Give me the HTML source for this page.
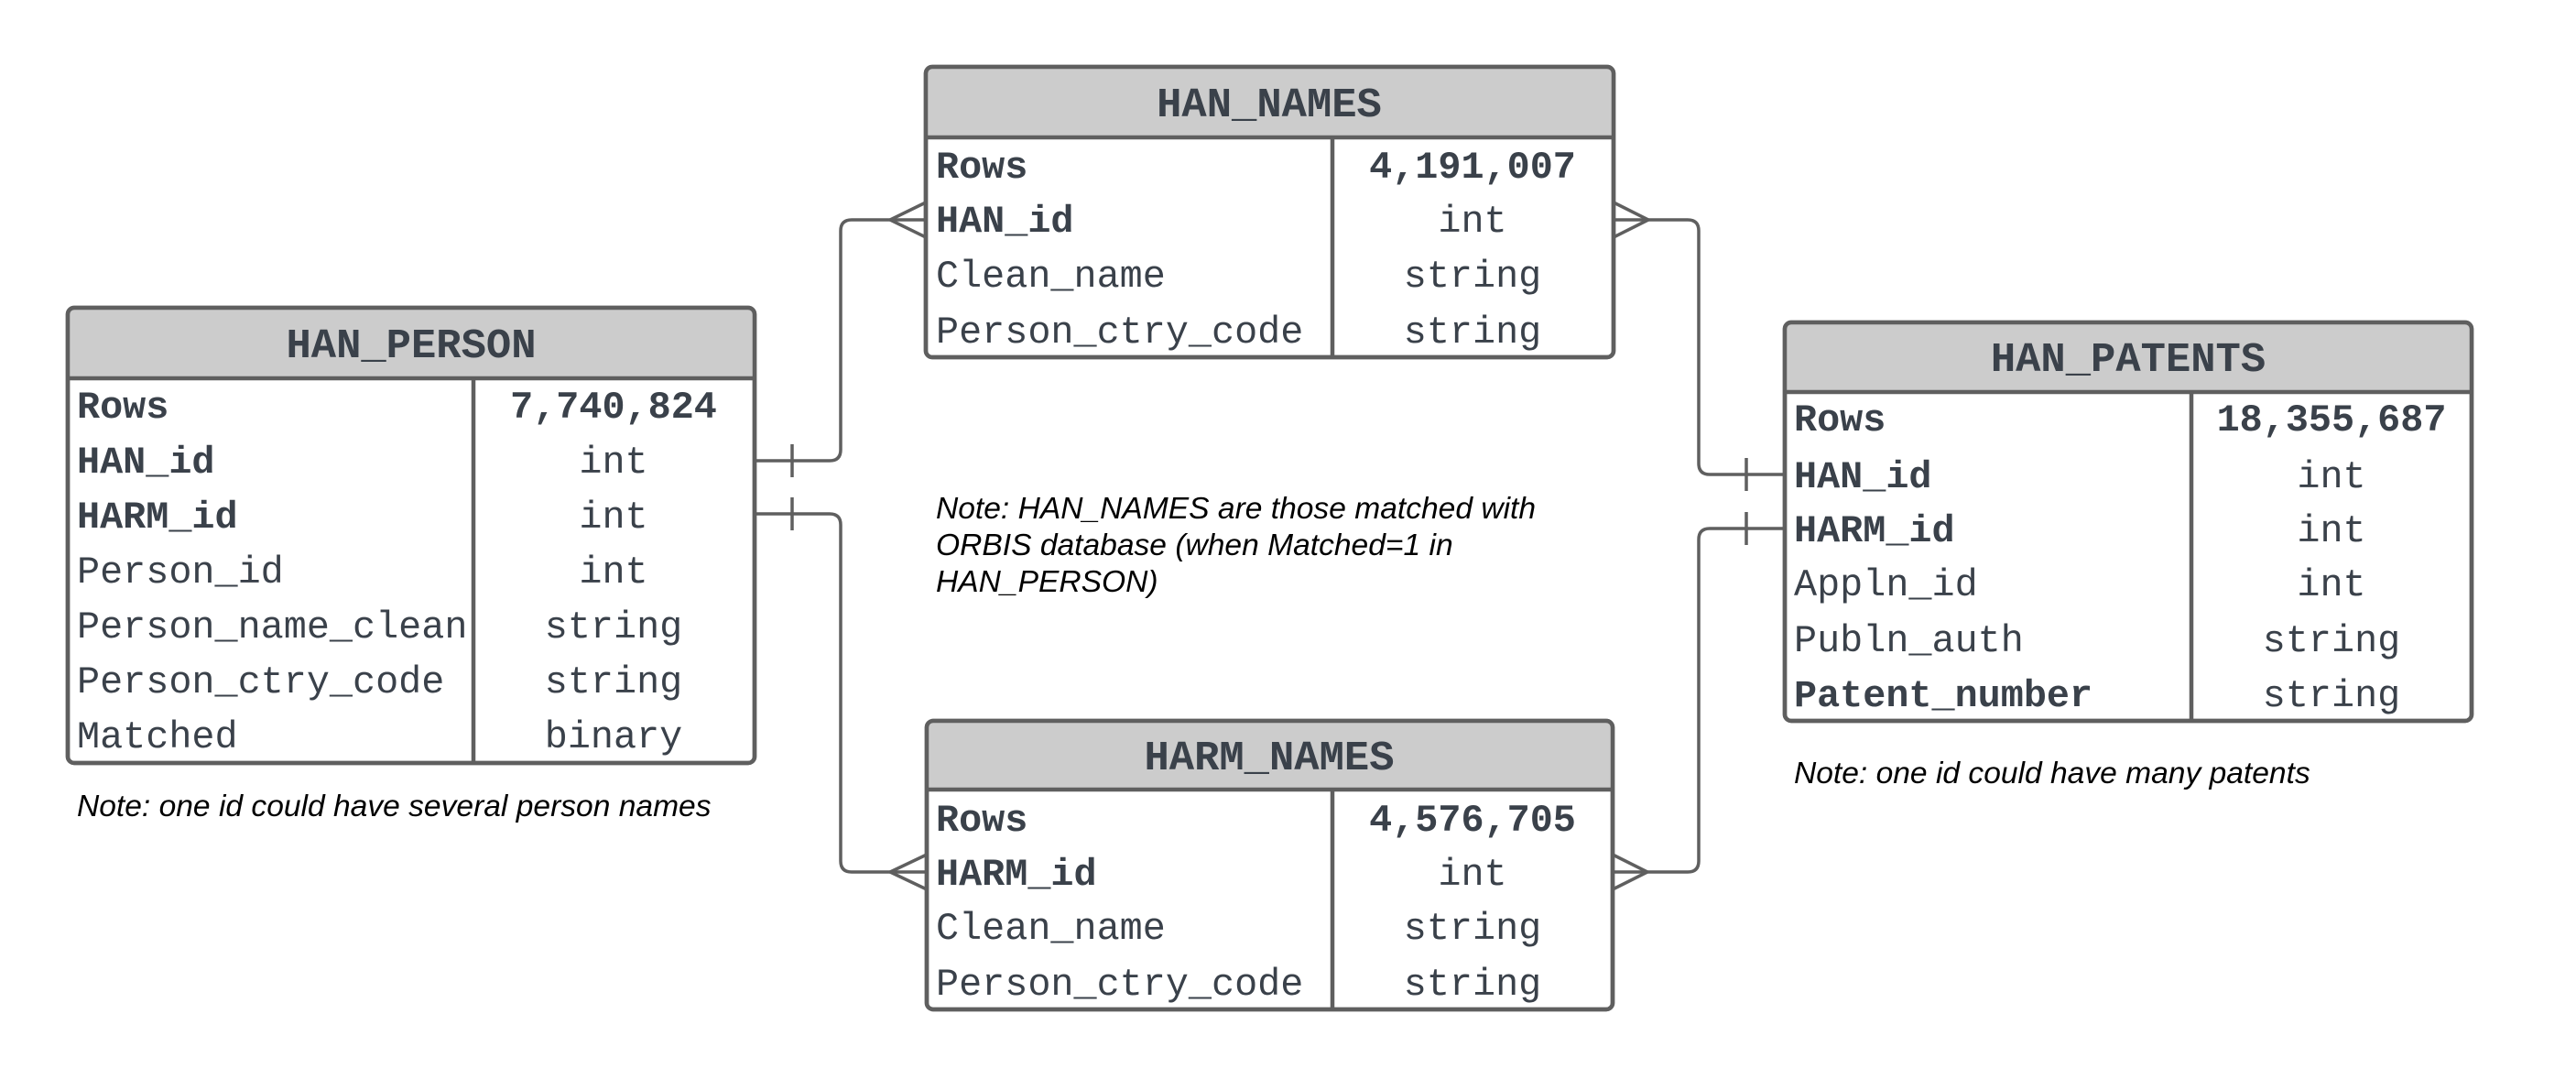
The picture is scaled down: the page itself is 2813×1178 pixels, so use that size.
<!DOCTYPE html>
<html><head><meta charset="utf-8"><style>
html,body{margin:0;padding:0;background:#fff;}
svg{display:block;}
.h{font-family:"Liberation Mono",monospace;font-weight:bold;font-size:45.5px;fill:#3a414a;}
.r{font-family:"Liberation Mono",monospace;font-size:41.8px;fill:#3a414a;}
.b{font-weight:bold;}
.n{font-family:"Liberation Sans",sans-serif;font-style:italic;font-size:33.6px;fill:#000;}
.ln{fill:none;stroke:#5f5f5f;stroke-width:3.5;}
.bx{stroke:#5f5f5f;stroke-width:4.5;}
</style></head><body>
<svg width="2813" height="1178" viewBox="0 0 2813 1178" xmlns="http://www.w3.org/2000/svg">
<path class="ln" d="M824 503 H906 Q918 503 918 491 V252 Q918 240 930 240 H1011"/>
<path class="ln" d="M1011 221 L972 240 L1011 259"/>
<path class="ln" d="M865 485 V521"/>
<path class="ln" d="M824 561 H906 Q918 561 918 573 V940 Q918 952 930 952 H1012"/>
<path class="ln" d="M1012 933 L972 952 L1012 971"/>
<path class="ln" d="M865 543 V579"/>
<path class="ln" d="M1762 240 H1843 Q1855 240 1855 252 V506 Q1855 518 1867 518 H1949"/>
<path class="ln" d="M1762 221 L1800 240 L1762 259"/>
<path class="ln" d="M1907 500 V536"/>
<path class="ln" d="M1761 952 H1843 Q1855 952 1855 940 V589 Q1855 577 1867 577 H1949"/>
<path class="ln" d="M1761 933 L1799 952 L1761 971"/>
<path class="ln" d="M1907 559 V595"/>

<rect x="74" y="336" width="750" height="497" rx="7" fill="#fff" class="bx"/>
<path d="M81 338 H817 Q822 338 822 343 V413 H76 V343 Q76 338 81 338Z" fill="#cccccc"/>
<rect x="74" y="336" width="750" height="497" rx="7" fill="none" class="bx"/>
<line x1="74" y1="413" x2="824" y2="413" class="bx"/>
<line x1="517" y1="413" x2="517" y2="833" class="bx"/>
<text x="449" y="390" text-anchor="middle" class="h">HAN_PERSON</text>
<g class="r">
<text x="84" y="456" class="b">Rows</text><text x="670" y="456" text-anchor="middle" class="b">7,740,824</text>
<text x="84" y="516" class="b">HAN_id</text><text x="670" y="516" text-anchor="middle">int</text>
<text x="84" y="576" class="b">HARM_id</text><text x="670" y="576" text-anchor="middle">int</text>
<text x="84" y="636">Person_id</text><text x="670" y="636" text-anchor="middle">int</text>
<text x="84" y="696">Person_name_clean</text><text x="670" y="696" text-anchor="middle">string</text>
<text x="84" y="756">Person_ctry_code</text><text x="670" y="756" text-anchor="middle">string</text>
<text x="84" y="816">Matched</text><text x="670" y="816" text-anchor="middle">binary</text>
</g>
<text x="84" y="891" class="n">Note: one id could have several person names</text>

<rect x="1011" y="73" width="751" height="317" rx="7" fill="#fff" class="bx"/>
<path d="M1018 75 H1755 Q1760 75 1760 80 V150 H1013 V80 Q1013 75 1018 75Z" fill="#cccccc"/>
<rect x="1011" y="73" width="751" height="317" rx="7" fill="none" class="bx"/>
<line x1="1011" y1="150" x2="1762" y2="150" class="bx"/>
<line x1="1455" y1="150" x2="1455" y2="390" class="bx"/>
<text x="1386" y="127" text-anchor="middle" class="h">HAN_NAMES</text>
<g class="r">
<text x="1022" y="194" class="b">Rows</text><text x="1608" y="194" text-anchor="middle" class="b">4,191,007</text>
<text x="1022" y="253" class="b">HAN_id</text><text x="1608" y="253" text-anchor="middle">int</text>
<text x="1022" y="313">Clean_name</text><text x="1608" y="313" text-anchor="middle">string</text>
<text x="1022" y="374">Person_ctry_code</text><text x="1608" y="374" text-anchor="middle">string</text>
</g>
<text class="n"><tspan x="1022" y="566">Note: HAN_NAMES are those matched with</tspan><tspan x="1022" y="606">ORBIS database (when Matched=1 in</tspan><tspan x="1022" y="646">HAN_PERSON)</tspan></text>

<rect x="1012" y="787" width="749" height="315" rx="7" fill="#fff" class="bx"/>
<path d="M1019 789 H1754 Q1759 789 1759 794 V862 H1014 V794 Q1014 789 1019 789Z" fill="#cccccc"/>
<rect x="1012" y="787" width="749" height="315" rx="7" fill="none" class="bx"/>
<line x1="1012" y1="862" x2="1761" y2="862" class="bx"/>
<line x1="1455" y1="862" x2="1455" y2="1102" class="bx"/>
<text x="1386" y="840" text-anchor="middle" class="h">HARM_NAMES</text>
<g class="r">
<text x="1022" y="907" class="b">Rows</text><text x="1608" y="907" text-anchor="middle" class="b">4,576,705</text>
<text x="1022" y="966" class="b">HARM_id</text><text x="1608" y="966" text-anchor="middle">int</text>
<text x="1022" y="1025">Clean_name</text><text x="1608" y="1025" text-anchor="middle">string</text>
<text x="1022" y="1086">Person_ctry_code</text><text x="1608" y="1086" text-anchor="middle">string</text>
</g>

<rect x="1949" y="352" width="750" height="435" rx="7" fill="#fff" class="bx"/>
<path d="M1956 354 H2692 Q2697 354 2697 359 V428 H1951 V359 Q1951 354 1956 354Z" fill="#cccccc"/>
<rect x="1949" y="352" width="750" height="435" rx="7" fill="none" class="bx"/>
<line x1="1949" y1="428" x2="2699" y2="428" class="bx"/>
<line x1="2393" y1="428" x2="2393" y2="787" class="bx"/>
<text x="2324" y="405" text-anchor="middle" class="h">HAN_PATENTS</text>
<g class="r">
<text x="1959" y="470" class="b">Rows</text><text x="2546" y="470" text-anchor="middle" class="b">18,355,687</text>
<text x="1959" y="532" class="b">HAN_id</text><text x="2546" y="532" text-anchor="middle">int</text>
<text x="1959" y="591" class="b">HARM_id</text><text x="2546" y="591" text-anchor="middle">int</text>
<text x="1959" y="650">Appln_id</text><text x="2546" y="650" text-anchor="middle">int</text>
<text x="1959" y="711">Publn_auth</text><text x="2546" y="711" text-anchor="middle">string</text>
<text x="1959" y="771" class="b">Patent_number</text><text x="2546" y="771" text-anchor="middle">string</text>
</g>
<text x="1959" y="855" class="n">Note: one id could have many patents</text>
</svg>
</body></html>
